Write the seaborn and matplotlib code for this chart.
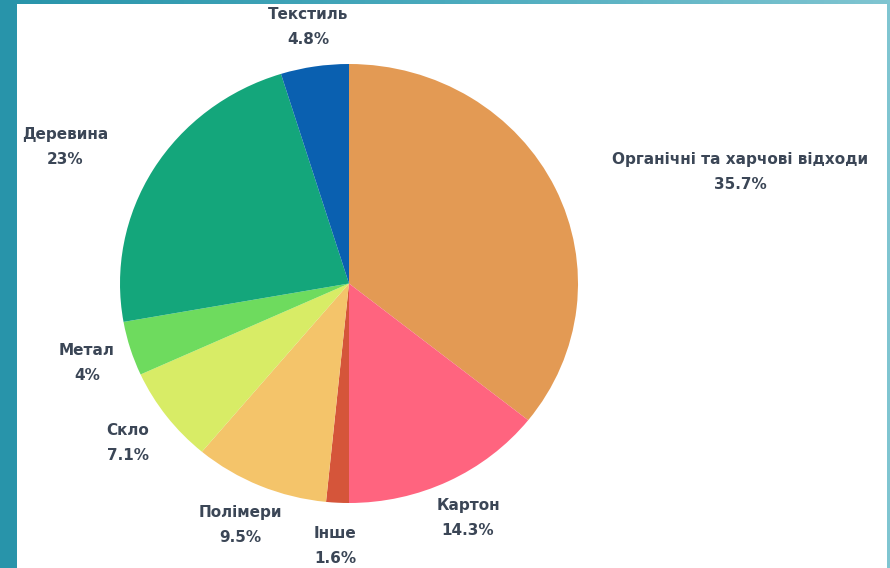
import numpy as np
import matplotlib
matplotlib.use("Agg")
import matplotlib.pyplot as plt
import seaborn as sns
from matplotlib.colors import LinearSegmentedColormap

categories = ["Органічні та харчові відходи", "Картон", "Інше", "Полімери",
              "Скло", "Метал", "Деревина", "Текстиль"]
values = [35.7, 14.3, 1.6, 9.5, 7.1, 4.0, 23.0, 4.8]
value_labels = ["35.7%", "14.3%", "1.6%", "9.5%", "7.1%", "4%", "23%", "4.8%"]
colors = ["#E39A54", "#FF647F", "#D5553A", "#F4C46A",
          "#D8EC66", "#6EDB5E", "#14A67B", "#0A60B0"]
# label block centres in pixel coordinates of the 890x568 picture
label_px = [(740, 172), (468, 518), (335, 546), (240, 525),
            (128, 443), (87, 363), (65, 147), (308, 27)]

sns.set_theme(style="white")
plt.rcParams['font.family'] = ['DejaVu Sans']

W, H = 890, 568
fig = plt.figure(figsize=(W / 100, H / 100), dpi=100)

# teal frame background
bg = fig.add_axes([0, 0, 1, 1])
grad = np.linspace(0, 1, 256)[None, :]
cmap = LinearSegmentedColormap.from_list("teal", ["#2894aa", "#4aaabd", "#80c5d1"])
bg.imshow(grad, aspect="auto", cmap=cmap, extent=[0, 1, 0, 1])
bg.set_axis_off()

# white panel
panel = fig.add_axes([17 / W, 0, (887 - 17) / W, (H - 4) / H])
panel.set_facecolor("white")
panel.set_xticks([])
panel.set_yticks([])
for s in panel.spines.values():
    s.set_visible(False)

# pie axes covering whole figure, data units = pie radius
cx, cy, rx, ry = 349, 283.5, 229, 219.5
ax = fig.add_axes([0, 0, 1, 1])
ax.patch.set_alpha(0)
ax.pie(values, colors=colors, startangle=90, counterclock=False,
       radius=1.0, center=(0, 0), wedgeprops=dict(linewidth=0))
ax.set_aspect("auto")
ax.set_xlim(-cx / rx, (W - cx) / rx)
ax.set_ylim(-(H - cy) / ry, cy / ry)
ax.set_axis_off()

for cat, vl, (px, py) in zip(categories, value_labels, label_px):
    fig.text(px / W, 1 - py / H, f"{cat}\n{vl}", ha="center", va="center",
             fontsize=11, fontweight="bold", color="#3b4656", linespacing=1.8)

fig.savefig("out.png", dpi=100)
